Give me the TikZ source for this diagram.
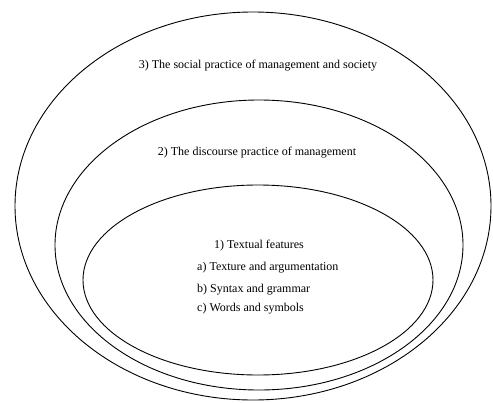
\documentclass[tikz,border=0pt]{standalone}
\usepackage{fontspec}
\setmainfont{Liberation Serif}
\usetikzlibrary{shapes.geometric}
\begin{document}
\begin{tikzpicture}[x=1pt,y=-1pt,
  ring/.style={draw=black, line width=0.9pt, ellipse, inner sep=0pt, outer sep=0pt},
  lbl/.style={font=\fontsize{12}{14}\selectfont, inner sep=0pt, anchor=center},
  item/.style={font=\fontsize{12}{14}\selectfont, inner sep=0pt, anchor=west}]
\useasboundingbox (0,0) rectangle (493,402);
\node[ring, minimum width=476pt, minimum height=388pt] (outer) at (253,206) {};
\node[ring, minimum width=408pt, minimum height=290pt] (middle) at (259,245) {};
\node[ring, minimum width=350pt, minimum height=190pt] (inner) at (258,280) {};
\node[lbl] (t3) at (258,66) {3) The social practice of management and society};
\node[lbl] (t2) at (257,153) {2) The discourse practice of management};
\node[lbl] (t1) at (259,246) {1) Textual features};
\node[item] (ta) at (197,268) {a) Texture and argumentation};
\node[item] (tb) at (197,290) {b) Syntax and grammar};
\node[item] (tc) at (197,309) {c) Words and symbols};
\end{tikzpicture}
\end{document}
